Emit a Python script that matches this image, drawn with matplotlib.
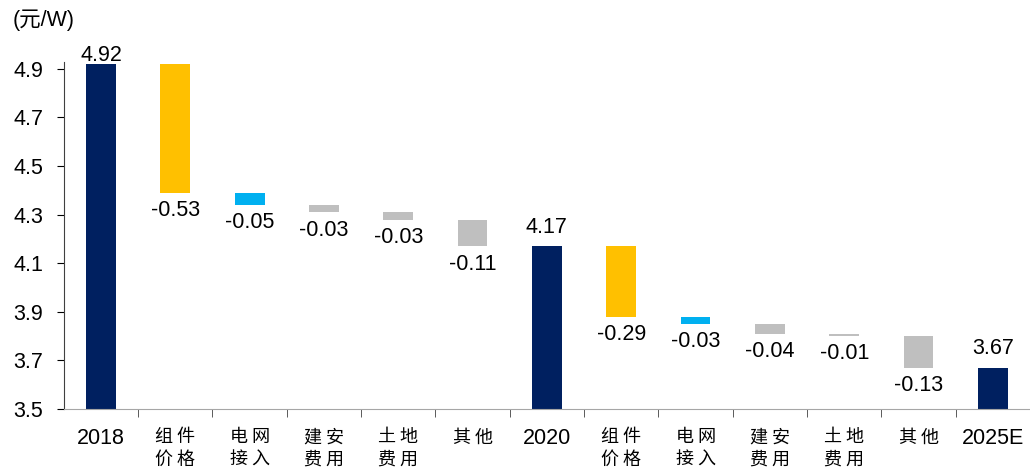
import matplotlib
matplotlib.use('Agg')
import matplotlib.pyplot as plt
import numpy as np

plt.rcParams['font.family'] = ['Liberation Sans', 'Noto Sans CJK SC', 'DejaVu Sans']

# 数据
categories = ['2018', '组 件\n价 格', '电 网\n接 入', '建 安\n费 用', '土 地\n费 用', '其 他',
              '2020', '组 件\n价 格', '电 网\n接 入', '建 安\n费 用', '土 地\n费 用', '其 他', '2025E']
values = [4.92, -0.53, -0.05, -0.03, -0.03, -0.11,
          4.17, -0.29, -0.03, -0.04, -0.01, -0.13, 3.67]
is_total = [True, False, False, False, False, False,
            True, False, False, False, False, False, True]
kinds = ['total', 'module', 'grid', 'other', 'other', 'other',
         'total', 'module', 'grid', 'other', 'other', 'other', 'total']

colors = {'total': '#002060', 'module': '#FFC000', 'grid': '#00B0F0', 'other': '#BFBFBF'}
base_y = 3.5
y_top = 4.93
fs = 15.5

fig = plt.figure(figsize=(10.30, 4.72), dpi=100)
ax = fig.add_axes([0.062, 0.1335, 0.938, 0.736])

x = np.arange(len(categories))
level = 0.0
for i, (v, tot, k) in enumerate(zip(values, is_total, kinds)):
    if tot:
        level = v
        ax.bar(i, v - base_y, bottom=base_y, width=0.4, color=colors[k])
        # 标签放在柱顶上方，但不超出绘图区
        ax.text(i, min(v + 0.035, y_top - 0.02), f'{v:.2f}', ha='center', va='bottom',
                fontsize=fs)
    else:
        top = level
        level = level + v
        ax.bar(i, top - level, bottom=level, width=0.4, color=colors[k])
        ax.text(i, level - 0.03, f'{v:.2f}', ha='center', va='top', fontsize=fs)

ax.set_xlim(-0.5, len(categories) - 0.5)
ax.set_ylim(base_y, y_top)
ax.set_yticks(np.arange(3.5, 4.91, 0.2))
ax.set_yticklabels([f'{t:.1f}' for t in np.arange(3.5, 4.91, 0.2)], fontsize=fs)

ax.set_xticks(x)
ax.set_xticklabels(categories, fontsize=fs, va='top', linespacing=1.3)
for lab, tot in zip(ax.get_xticklabels(), is_total):
    if not tot:
        lab.set_fontfamily(['Noto Sans CJK SC', 'DejaVu Sans'])
        lab.set_fontsize(13)
ax.tick_params(axis='x', which='major', length=0, pad=14)
ax.set_xticks(x[:-1] + 0.5, minor=True)
ax.tick_params(axis='x', which='minor', length=6, direction='out', color='#404040')
ax.tick_params(axis='y', length=5, direction='out', pad=10)

ax.spines['top'].set_visible(False)
ax.spines['right'].set_visible(False)
ax.spines['bottom'].set_color('#A6A6A6')
ax.spines['left'].set_color('#404040')

fig.text(0.012, 0.957, '(元/W)', fontsize=fs, ha='left', va='center',
         family=['Liberation Sans', 'Noto Sans CJK SC'])

fig.savefig('out.png', dpi=100)
